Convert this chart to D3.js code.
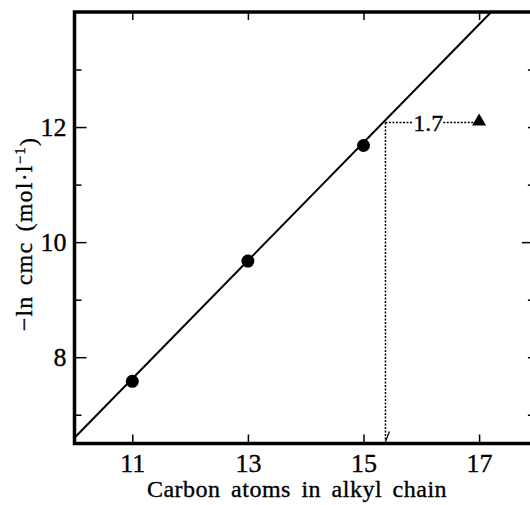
<html>
<script src="https://d3js.org/d3.v7.min.js"></script>
<style>
    body { margin: 0; background: white; }
    text { font-family: "Liberation Serif", "Times New Roman", serif; fill: black; stroke: black; stroke-width: 0.35; }
    .axis path { stroke: none; }
    .axis line { stroke: black; stroke-width: 1.5; }
</style>
<body>
<svg id="chart" width="530" height="505"></svg>
<script>
// measured points: carbon number vs -ln cmc
var carbons = [11, 13, 15];
var lnCmc = [7.58, 9.67, 11.68];

// fitted straight line (end points)
var fitX = [10, 17.21];
var fitY = [6.6, 14];

// annotation: dotted guide, "1.7" label and the triangle marker
var guideX = 15.38;
var guideY = 12.08;
var labelX = 16.12;
var labelText = "1.7";
var triX = 17;
var triY = 12.08;

var xTicks = [11, 13, 15, 17];
var yMajor = [8, 10, 12];
var yMinor = [7, 9, 11, 13];

var margin = {top: 12, left: 74.5},
    xMin = 10, xMax = 18,
    yMin = 6.5, yMax = 14;

var svg = d3.select("#chart");

var x = d3.scaleLinear()
    .domain([xMin, xMax])
    .range([margin.left, margin.left + 8 * 57.8]);

var y = d3.scaleLinear()
    .domain([yMin, yMax])
    .range([443.5, margin.top]);

// ticks (all pointing inward)
svg.append("g")
    .attr("class", "axis")
    .attr("transform", "translate(0," + y(yMin) + ")")
    .call(d3.axisBottom(x).tickValues(xTicks).tickSize(-9).tickPadding(10))
    .call(g => g.attr("font-size", null).attr("font-family", null))
    .selectAll("text").style("font-size", "26px").attr("dy", "0.72em");

svg.append("g")
    .attr("class", "axis")
    .attr("transform", "translate(0," + y(yMax) + ")")
    .call(d3.axisTop(x).tickValues(xTicks).tickSize(-8).tickFormat(""));

svg.append("g")
    .attr("class", "axis")
    .attr("transform", "translate(" + x(xMin) + ",0)")
    .call(d3.axisLeft(y).tickValues(yMajor).tickSize(-12).tickPadding(8))
    .call(g => g.attr("font-size", null).attr("font-family", null))
    .selectAll("text").style("font-size", "26px");

svg.append("g")
    .attr("class", "axis")
    .attr("transform", "translate(" + x(xMin) + ",0)")
    .call(d3.axisLeft(y).tickValues(yMinor).tickSize(-7).tickFormat(""));

svg.append("g")
    .attr("class", "axis")
    .attr("transform", "translate(" + x(xMax) + ",0)")
    .call(d3.axisRight(y).tickValues([10]).tickSize(-15).tickFormat(""));

svg.append("g")
    .attr("class", "axis")
    .attr("transform", "translate(" + x(xMax) + ",0)")
    .call(d3.axisRight(y).tickValues(yMinor.concat([8, 12])).tickSize(-9).tickFormat(""));

// heavy frame
svg.append("rect")
    .attr("x", x(xMin))
    .attr("y", y(yMax))
    .attr("width", x(xMax) - x(xMin))
    .attr("height", y(yMin) - y(yMax))
    .attr("fill", "none")
    .attr("stroke", "black")
    .attr("stroke-width", 3.5);

// fitted line
var line = d3.line()
    .x(function(d) { return x(d[0]); })
    .y(function(d) { return y(d[1]); });

svg.append("path")
    .datum(d3.zip(fitX, fitY))
    .attr("fill", "none")
    .attr("stroke", "black")
    .attr("stroke-width", 2)
    .attr("d", line);

// data points
svg.selectAll("circle.pt")
    .data(d3.zip(carbons, lnCmc))
    .enter().append("circle")
    .attr("class", "pt")
    .attr("cx", function(d) { return x(d[0]); })
    .attr("cy", function(d) { return y(d[1]); })
    .attr("r", 6.5)
    .attr("fill", "black");

// dotted guides
function dline(x1, y1, x2, y2) {
    svg.append("line")
        .attr("x1", x1).attr("y1", y1).attr("x2", x2).attr("y2", y2)
        .attr("stroke", "black")
        .attr("stroke-width", 1.5)
        .attr("stroke-dasharray", "2,1.5");
}
dline(x(guideX), y(guideY), x(guideX), y(yMin) - 2);
dline(x(guideX), y(guideY), x(labelX) - 15, y(guideY));
dline(x(labelX) + 15, y(guideY), x(triX) - 5, y(guideY));

// small arrow head at the foot of the vertical guide
svg.append("path")
    .attr("d", "M" + (x(guideX) + 4) + "," + (y(yMin) - 12) + "L" + x(guideX) + "," + (y(yMin) - 2))
    .attr("fill", "none")
    .attr("stroke", "black")
    .attr("stroke-width", 1.3);

svg.append("text")
    .attr("x", x(labelX))
    .attr("y", y(guideY))
    .attr("dy", "0.35em")
    .style("text-anchor", "middle")
    .style("font-size", "24px")
    .text(labelText);

svg.append("path")
    .attr("transform", "translate(" + x(triX) + "," + (y(triY) - 1) + ")")
    .attr("d", d3.symbol().type(d3.symbolTriangle).size(85))
    .attr("fill", "black");

// axis titles
svg.append("text")
    .attr("x", 297)
    .attr("y", 497)
    .style("text-anchor", "middle")
    .style("font-size", "24px")
    .style("letter-spacing", "0.5px")
    .style("word-spacing", "4px")
    .text("Carbon atoms in alkyl chain");

var yt = svg.append("text")
    .attr("transform", "translate(32,234) rotate(-90)")
    .style("text-anchor", "middle")
    .style("font-size", "24px")
    .style("letter-spacing", "1.2px")
    .style("word-spacing", "3px");
yt.append("tspan").text("\u2212ln cmc (mol\u00b7l");
yt.append("tspan").attr("dy", "-0.45em").style("font-size", "15px").text("\u22121");
yt.append("tspan").attr("dy", "0.45em").text(")");
</script>
</body>
</html>
